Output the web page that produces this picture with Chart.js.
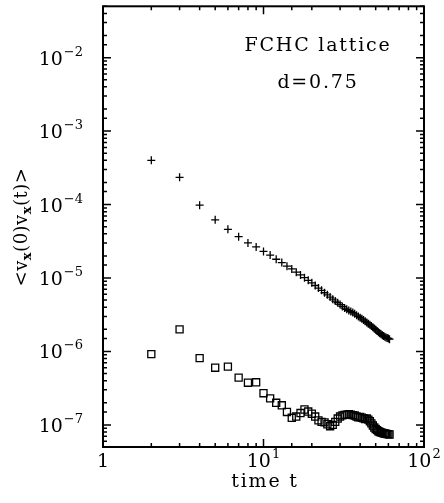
<!DOCTYPE html>
<html>
<head>
<meta charset="utf-8">
<script src="https://cdn.jsdelivr.net/npm/chart.js@4/dist/chart.umd.min.js"></script>
<style>
  html, body { margin: 0; padding: 0; background: #fff; }
  #wrap { width: 444px; height: 503px; }
</style>
</head>
<body>
<div id="wrap"><canvas id="chart" width="444" height="503"></canvas></div>
<script>
// time steps t = 2 .. 61
const times = [2, 3, 4, 5, 6, 7, 8, 9, 10, 11, 12, 13, 14, 15, 16, 17, 18, 19, 20, 21,
  22, 23, 24, 25, 26, 27, 28, 29, 30, 31, 32, 33, 34, 35, 36, 37, 38, 39, 40, 41,
  42, 43, 44, 45, 46, 47, 48, 49, 50, 51, 52, 53, 54, 55, 56, 57, 58, 59, 60, 61];

// crosses (upper series)
const crossValues = [4.0e-4, 2.35e-4, 9.8e-5, 6.2e-5, 4.6e-5, 3.65e-5, 3.0e-5, 2.65e-5, 2.3e-5, 2.05e-5,
  1.8e-5, 1.62e-5, 1.45e-5, 1.33e-5, 1.2e-5, 1.1e-5, 1.01e-5, 9.3e-6, 8.6e-6, 7.9e-6,
  7.3e-6, 6.8e-6, 6.3e-6, 5.9e-6, 5.5e-6, 5.15e-6, 4.85e-6, 4.6e-6, 4.35e-6, 4.1e-6,
  3.9e-6, 3.75e-6, 3.6e-6, 3.5e-6, 3.38e-6, 3.25e-6, 3.12e-6, 3.0e-6, 2.88e-6, 2.78e-6,
  2.68e-6, 2.57e-6, 2.47e-6, 2.38e-6, 2.3e-6, 2.22e-6, 2.14e-6, 2.06e-6, 1.98e-6, 1.9e-6,
  1.83e-6, 1.77e-6, 1.71e-6, 1.66e-6, 1.62e-6, 1.58e-6, 1.55e-6, 1.52e-6, 1.5e-6, 1.47e-6];

// open squares (lower series)
const squareValues = [9.2e-7, 2.0e-6, 8.1e-7, 6.0e-7, 6.2e-7, 4.4e-7, 3.75e-7, 3.8e-7, 2.7e-7, 2.3e-7,
  2.0e-7, 1.85e-7, 1.5e-7, 1.25e-7, 1.3e-7, 1.45e-7, 1.62e-7, 1.52e-7, 1.42e-7, 1.3e-7,
  1.15e-7, 1.1e-7, 1.08e-7, 1.02e-7, 9.6e-8, 1.0e-7, 1.1e-7, 1.22e-7, 1.3e-7, 1.35e-7,
  1.37e-7, 1.38e-7, 1.4e-7, 1.38e-7, 1.36e-7, 1.34e-7, 1.3e-7, 1.27e-7, 1.28e-7, 1.25e-7,
  1.23e-7, 1.2e-7, 1.22e-7, 1.18e-7, 1.12e-7, 1.05e-7, 9.8e-8, 9.2e-8, 8.8e-8, 8.5e-8,
  8.2e-8, 8.0e-8, 7.9e-8, 7.8e-8, 7.7e-8, 7.6e-8, 7.6e-8, 7.5e-8, 7.5e-8, 7.4e-8];

// decade tick labels: [value, base, exponent]
const xTickLabels = [[1, '1', ''], [10, '10', '1'], [100, '10', '2']];
const yTickLabels = [[1e-2, '10', '\u22122'], [1e-3, '10', '\u22123'], [1e-4, '10', '\u22124'],
  [1e-5, '10', '\u22125'], [1e-6, '10', '\u22126'], [1e-7, '10', '\u22127']];

const xTitle = 'time t';
const noteLines = ['FCHC lattice', 'd=0.75'];

const FONT = '"DejaVu Serif", "Liberation Serif", serif';

function toPoints(vals) {
    return vals.map((v, i) => ({ x: times[i], y: v }));
}

// draw "10" with a raised exponent; align = 'right' | 'center'
function drawPower(ctx, base, exp, x, y, align) {
    ctx.letterSpacing = '0px';
    ctx.font = '19px ' + FONT;
    const wb = ctx.measureText(base).width;
    ctx.font = '13px ' + FONT;
    const we = exp ? ctx.measureText(exp).width + 1 : 0;
    const total = wb + we;
    let left = align === 'right' ? x - total : x - total / 2;
    ctx.textAlign = 'left';
    ctx.font = '19px ' + FONT;
    ctx.fillText(base, left, y);
    if (exp) {
        ctx.font = '13px ' + FONT;
        ctx.fillText(exp, left + wb + 1, y - 9);
    }
}

const framePlugin = {
    id: 'frame',
    afterDraw(chart) {
        const ctx = chart.ctx;
        const a = chart.chartArea;
        const xs = chart.scales.x;
        const ys = chart.scales.y;
        ctx.save();
        ctx.strokeStyle = '#000';
        ctx.fillStyle = '#000';

        // frame
        ctx.lineWidth = 2;
        ctx.strokeRect(a.left, a.top, a.right - a.left, a.bottom - a.top);

        // inward ticks on all four sides
        ctx.lineWidth = 1.5;
        ctx.beginPath();
        xs.ticks.forEach(t => {
            const major = Math.abs(Math.log10(t.value) % 1) < 1e-9;
            const len = major ? 8 : 4;
            const px = xs.getPixelForValue(t.value);
            ctx.moveTo(px, a.bottom); ctx.lineTo(px, a.bottom - len);
            ctx.moveTo(px, a.top); ctx.lineTo(px, a.top + len);
        });
        ys.ticks.forEach(t => {
            const lg = Math.log10(t.value);
            const major = Math.abs(lg - Math.round(lg)) < 1e-9;
            const len = major ? 8 : 4;
            const py = ys.getPixelForValue(t.value);
            ctx.moveTo(a.left, py); ctx.lineTo(a.left + len, py);
            ctx.moveTo(a.right, py); ctx.lineTo(a.right - len, py);
        });
        ctx.stroke();

        // tick labels
        ctx.textBaseline = 'alphabetic';
        xTickLabels.forEach(([v, b, e]) => {
            drawPower(ctx, b, e, xs.getPixelForValue(v), a.bottom + 20, 'center');
        });
        yTickLabels.forEach(([v, b, e]) => {
            drawPower(ctx, b, e, a.left - 20, ys.getPixelForValue(v) + 7, 'right');
        });

        // x title
        ctx.font = '19px ' + FONT;
        ctx.letterSpacing = '1.8px';
        ctx.textAlign = 'center';
        ctx.fillText(xTitle, 265, 487);

        // y title with subscripts, rotated
        ctx.save();
        ctx.translate(27, 227);
        ctx.rotate(-Math.PI / 2);
        ctx.letterSpacing = '0.5px';
        const runs = [['<v', 0], ['x', 1], ['(0)v', 0], ['x', 1], ['(t)>', 0]];
        let width = 0;
        runs.forEach(([s, sub]) => {
            ctx.font = (sub ? 'bold 13px ' : '18px ') + FONT;
            width += ctx.measureText(s).width;
        });
        let cx = -width / 2;
        ctx.textAlign = 'left';
        runs.forEach(([s, sub]) => {
            ctx.font = (sub ? 'bold 13px ' : '18px ') + FONT;
            ctx.fillText(s, cx, sub ? 4 : 0);
            cx += ctx.measureText(s).width;
        });
        ctx.restore();

        // annotation
        ctx.font = '19px ' + FONT;
        ctx.letterSpacing = '1.8px';
        ctx.textAlign = 'center';
        ctx.fillText(noteLines[0], 318, 51);
        ctx.fillText(noteLines[1], 318, 88);

        ctx.restore();
    }
};

new Chart(document.getElementById('chart'), {
    type: 'scatter',
    data: {
        datasets: [
            {
                label: 'cross',
                data: toPoints(crossValues),
                pointStyle: 'cross',
                pointRadius: 4,
                borderColor: '#000',
                borderWidth: 1.3,
                showLine: false
            },
            {
                label: 'square',
                data: toPoints(squareValues),
                pointStyle: 'rect',
                pointRadius: 5,
                backgroundColor: 'rgba(0,0,0,0)',
                borderColor: '#000',
                borderWidth: 1.3,
                showLine: false
            }
        ]
    },
    options: {
        responsive: false,
        animation: false,
        events: [],
        layout: { padding: { left: 103, right: 20, top: 5, bottom: 56 } },
        plugins: {
            legend: { display: false },
            tooltip: { enabled: false }
        },
        scales: {
            x: {
                type: 'logarithmic',
                min: 1,
                max: 100,
                grid: { display: false },
                border: { display: false },
                ticks: { display: false },
                afterFit(scale) { scale.height = 0; }
            },
            y: {
                type: 'logarithmic',
                min: 5e-8,
                max: 5e-2,
                grid: { display: false },
                border: { display: false },
                ticks: { display: false },
                afterFit(scale) { scale.width = 0; }
            }
        }
    },
    plugins: [framePlugin]
});
</script>
</body>
</html>
